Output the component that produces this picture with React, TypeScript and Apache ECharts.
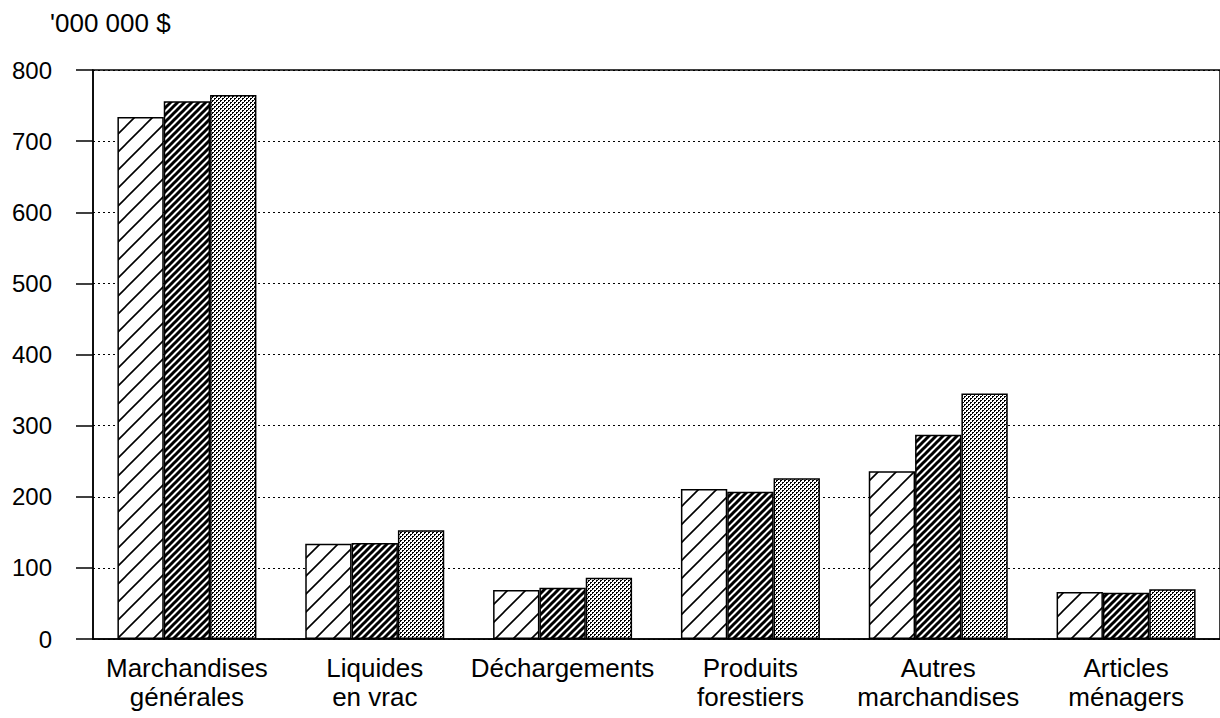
import React, { useEffect, useRef } from "react";
import * as echarts from "echarts";

const categories = [
  "Marchandises\ngénérales",
  "Liquides\nen vrac",
  "Déchargements",
  "Produits\nforestiers",
  "Autres\nmarchandises",
  "Articles\nménagers",
];
const seriesA = [734, 134, 69, 211, 236, 66];
const seriesB = [756, 135, 72, 207, 287, 65];
const seriesC = [765, 153, 86, 226, 345, 70];
const yTicks = { min: 0, max: 800, interval: 100 };
const unitLabel = "'000 000 $";

function hatch(size: number, bg: string, fg: string, lw: number) {
  const c = document.createElement("canvas");
  c.width = size;
  c.height = size;
  const ctx = c.getContext("2d")!;
  ctx.fillStyle = bg;
  ctx.fillRect(0, 0, size, size);
  ctx.strokeStyle = fg;
  ctx.lineWidth = lw;
  ctx.beginPath();
  ctx.moveTo(-2, 2);
  ctx.lineTo(2, -2);
  ctx.moveTo(0, size);
  ctx.lineTo(size, 0);
  ctx.moveTo(size - 2, size + 2);
  ctx.lineTo(size + 2, size - 2);
  ctx.stroke();
  return c;
}

function stipple() {
  const c = document.createElement("canvas");
  c.width = 4;
  c.height = 4;
  const ctx = c.getContext("2d")!;
  ctx.fillStyle = "#ffffff";
  ctx.fillRect(0, 0, 4, 4);
  ctx.fillStyle = "#000000";
  ctx.fillRect(0, 0, 2, 1);
  ctx.fillRect(0, 1, 1, 1);
  ctx.fillRect(2, 2, 2, 1);
  ctx.fillRect(2, 3, 1, 1);
  return c;
}

export default function App() {
  const ref = useRef<HTMLDivElement>(null);
  useEffect(() => {
    if (!ref.current) return;
    const chart = echarts.init(ref.current, undefined, { renderer: "svg" });
    const font = "'Liberation Sans', Arial, Helvetica, sans-serif";
    const pA = { image: hatch(18, "#ffffff", "#000000", 1.6), repeat: "repeat" };
    const pB = { image: hatch(7, "#ffffff", "#000000", 3), repeat: "repeat" };
    const pC = { image: stipple(), repeat: "repeat" };
    const mk = (name: string, data: number[], color: any) => ({
      name,
      type: "bar",
      data,
      barGap: "0%",
      barCategoryGap: "26%",
      itemStyle: { color, borderColor: "#000", borderWidth: 1.5 },
    });
    chart.setOption({
      animation: false,
      backgroundColor: "#ffffff",
      title: {
        text: unitLabel,
        left: 45,
        top: 5,
        textStyle: { fontFamily: font, fontSize: 26, fontWeight: "normal", color: "#000" },
      },
      grid: {
        left: 93,
        right: -2,
        top: 70,
        bottom: 79,
        show: true,
        borderColor: "#000",
        borderWidth: 1.5,
      },
      xAxis: {
        type: "category",
        data: categories,
        axisLine: { lineStyle: { color: "#000", width: 1.5 } },
        axisTick: { show: false },
        axisLabel: {
          fontFamily: font,
          fontSize: 26,
          color: "#000",
          margin: 14,
          lineHeight: 29,
          interval: 0,
        },
      },
      yAxis: {
        type: "value",
        min: yTicks.min,
        max: yTicks.max,
        interval: yTicks.interval,
        axisLine: { show: true, lineStyle: { color: "#000", width: 1.5 } },
        axisTick: { show: true, length: 17, lineStyle: { color: "#000", width: 1.5 } },
        axisLabel: { fontFamily: font, fontSize: 24, color: "#000", margin: 41 },
        splitLine: { show: true, lineStyle: { color: "#000", width: 1, type: [2, 3] } },
      },
      series: [mk("A", seriesA, pA), mk("B", seriesB, pB), mk("C", seriesC, pC)],
    });
    return () => chart.dispose();
  }, []);
  return (
    <div
      ref={ref}
      style={{ position: "fixed", left: 0, top: 0, width: 1220, height: 718, background: "#fff" }}
    />
  );
}
